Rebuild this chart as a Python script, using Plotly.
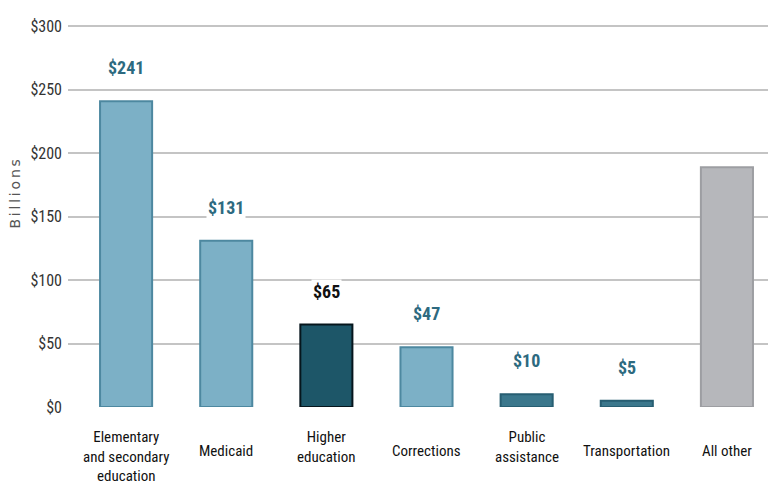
import plotly.graph_objects as go

categories = ["Elementary<br>and secondary<br>education", "Medicaid", "Higher<br>education",
              "Corrections", "Public<br>assistance", "Transportation", "All other"]
values = [241, 131, 65, 47, 10, 5, 189]
value_labels = ["$241", "$131", "$65", "$47", "$10", "$5", ""]
tick_vals = [0, 50, 100, 150, 200, 250, 300]
tick_text = ["$0", "$50", "$100", "$150", "$200", "$250", "$300"]
y_title = "Billions"

fill_colors = ["#7cb0c6", "#7cb0c6", "#1d5668", "#7cb0c6", "#3b778c", "#3b778c", "#b6b7bb"]
line_colors = ["#4d88a0", "#4d88a0", "#06161d", "#4d88a0", "#275e72", "#275e72", "#9d9ea2"]
label_colors = ["#2d6a80", "#2d6a80", "#111111", "#2d6a80", "#2d6a80", "#2d6a80", "#2d6a80"]

NARROW = "Roboto Condensed, Liberation Sans Narrow, DejaVu Sans Condensed, Roboto, sans-serif"

x = list(range(len(categories)))
fig = go.Figure(go.Bar(
    x=x, y=values, width=0.52,
    marker=dict(color=fill_colors, line=dict(color=line_colors, width=2)),
    hoverinfo="skip",
))

annotations = []
for i, (v, lab) in enumerate(zip(values, value_labels)):
    if lab:
        annotations.append(dict(
            x=i, y=v, xref="x", yref="y", text="<b>" + lab + "</b>", showarrow=False,
            yanchor="bottom", yshift=21, bgcolor="white",
            font=dict(family=NARROW, size=18, color=label_colors[i]),
        ))
for i, c in enumerate(categories):
    nlines = c.count("<br>") + 1
    annotations.append(dict(
        x=i, y=0, xref="paper" if False else "x", yref="paper", text=c, showarrow=False,
        yanchor="top", yshift=-19 if nlines > 1 else -33,
        font=dict(family=NARROW, size=15, color="#111111"),
    ))
annotations.append(dict(
    x=0, y=0.556, xref="paper", yref="paper", text="\u2009".join(y_title), showarrow=False,
    textangle=-90, xanchor="center", yanchor="middle", xshift=-53,
    font=dict(family="DejaVu Sans, sans-serif", size=14, color="#555555"),
))

# the page body has an 8px default margin, so the figure is shrunk by that offset
fig.update_layout(
    width=768, height=492,
    margin=dict(l=60, r=0, t=17, b=93),
    paper_bgcolor="white", plot_bgcolor="white",
    showlegend=False,
    xaxis=dict(range=[-0.58, 6.49], showticklabels=False, showgrid=False, zeroline=False,
               showline=False, ticks=""),
    yaxis=dict(range=[0, 301], tickvals=tick_vals, ticktext=tick_text,
               showgrid=True, gridcolor="#c4c4c4", gridwidth=2, zeroline=False,
               showline=False, ticks="", ticklabelstandoff=5,
               tickfont=dict(family=NARROW, size=16, color="#333333")),
    annotations=annotations,
)

fig.write_html("out.html")
